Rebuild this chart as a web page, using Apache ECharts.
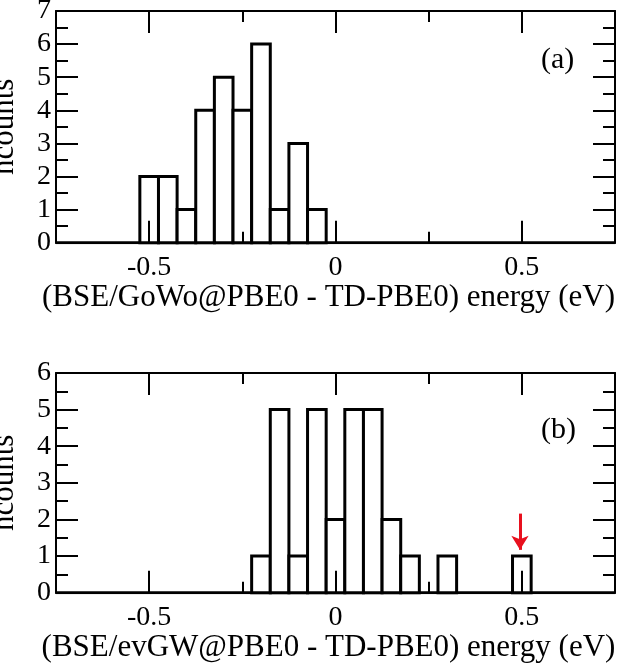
<!DOCTYPE html>
<html>
<head>
<meta charset="utf-8">
<script src="https://cdn.jsdelivr.net/npm/echarts@6/dist/echarts.min.js"></script>
<style>
html,body{margin:0;padding:0;background:#fff;}
#chart{width:625px;height:666px;}
</style>
</head>
<body>
<div id="chart"></div>
<script>
// ---- data ----
const binWidth = 0.05;
const binsA = [-0.50, -0.45, -0.40, -0.35, -0.30, -0.25, -0.20, -0.15, -0.10, -0.05];
const countsA = [2, 2, 1, 4, 5, 4, 6, 1, 3, 1];
const binsB = [-0.20, -0.15, -0.10, -0.05, 0.00, 0.05, 0.10, 0.15, 0.20, 0.25, 0.30, 0.35, 0.40, 0.45, 0.50];
const countsB = [1, 5, 1, 5, 2, 5, 5, 2, 1, 0, 1, 0, 0, 0, 1];
const xMajorTicks = [-0.5, 0, 0.5];
const xMinorTicks = [-0.25, 0.25];
const xRange = [-0.75, 0.75];
const yMaxA = 7, yMaxB = 6;
const arrowB = { x: 0.495, from: 2.16, to: 1.17 };
const xTitleA = '(BSE/GoWo@PBE0 - TD-PBE0) energy (eV)';
const xTitleB = '(BSE/evGW@PBE0 - TD-PBE0) energy (eV)';
const yTitle = 'ncounts';
const panelLabels = ['(a)', '(b)'];

// ---- styling ----
const FONT = '"Liberation Serif", "Times New Roman", serif';
const FS_TICK = 28;
const FS_TITLE = 31;
const GRID_H = [231.7, 219.7];
const MAJOR_LEN = 22, MINOR_LEN = 11;
const chart = echarts.init(document.getElementById('chart'));

function histRender(params, api) {
  const c = api.value(0), n = api.value(1);
  if (!n) return null;
  const p0 = api.coord([c - binWidth / 2, 0]);
  const p1 = api.coord([c + binWidth / 2, n]);
  return {
    type: 'rect',
    shape: { x: p0[0], y: p1[1], width: p1[0] - p0[0], height: p0[1] - p1[1] },
    style: { fill: '#fff', stroke: '#000', lineWidth: 3 }
  };
}

// inward x tick marks on bottom and top edges, as mark lines at the tick values
function xTickMarks(yMax, gridH) {
  const u = px => px * yMax / gridH;
  const out = [];
  const add = (v, len) => {
    out.push([{ coord: [v, 0] }, { coord: [v, u(len)] }]);
    out.push([{ coord: [v, yMax] }, { coord: [v, yMax - u(len)] }]);
  };
  xMajorTicks.forEach(v => add(v, MAJOR_LEN));
  xMinorTicks.forEach(v => add(v, MINOR_LEN));
  return {
    silent: true, animation: false, symbol: ['none', 'none'],
    label: { show: false }, emphasis: { disabled: true },
    lineStyle: { color: '#000', width: 2, type: 'solid' },
    data: out
  };
}

const line = () => ({ color: '#000', width: 2 });

function xAxes(gridIndex, title) {
  const base = () => ({
    gridIndex, type: 'value', min: xRange[0], max: xRange[1], interval: 0.25, z: 10,
    splitLine: { show: false },
    axisTick: { show: false }
  });
  return [
    Object.assign(base(), {
      position: 'bottom',
      axisLine: { show: true, onZero: false, lineStyle: line() },
      axisLabel: {
        show: true, margin: 11, color: '#000', fontFamily: FONT, fontSize: FS_TICK,
        formatter: v => xMajorTicks.some(t => Math.abs(t - v) < 1e-9) ? String(Math.round(v * 100) / 100) : ''
      },
      name: title, nameLocation: 'middle', nameGap: 38,
      nameTextStyle: { color: '#000', fontFamily: FONT, fontSize: FS_TITLE, padding: [0, 14, 0, 0] }
    }),
    Object.assign(base(), {
      position: 'top',
      axisLine: { show: true, onZero: false, lineStyle: line() },
      axisLabel: { show: false }
    })
  ];
}

function yAxes(gridIndex, yMax) {
  const base = () => ({
    gridIndex, type: 'value', min: 0, max: yMax, interval: 1, z: 10,
    splitLine: { show: false },
    axisLine: { show: true, onZero: false, lineStyle: line() },
    axisTick: { show: true, inside: true, length: 22, lineStyle: line() },
    minorTick: { show: true, splitNumber: 2, length: 12, lineStyle: line() }
  });
  return [
    Object.assign(base(), {
      position: 'left',
      axisLabel: { show: true, margin: 5, color: '#000', fontFamily: FONT, fontSize: FS_TICK },
      name: yTitle, nameLocation: 'middle', nameGap: 36, nameMoveOverlap: false,
      nameTextStyle: { color: '#000', fontFamily: FONT, fontSize: FS_TITLE }
    }),
    Object.assign(base(), {
      position: 'right',
      axisLabel: { show: false }
    })
  ];
}

const option = {
  animation: false,
  grid: [
    { left: 56, right: 10, top: 11, height: GRID_H[0], outerBoundsMode: 'none' },
    { left: 56, right: 10, top: 373, height: GRID_H[1], outerBoundsMode: 'none' }
  ],
  xAxis: [].concat(xAxes(0, xTitleA), xAxes(1, xTitleB)),
  yAxis: [].concat(yAxes(0, yMaxA), yAxes(1, yMaxB)),
  graphic: [
    { type: 'text', left: 541, top: 45, style: { text: panelLabels[0], font: `30px ${FONT}`, fill: '#000' } },
    { type: 'text', left: 541, top: 415, style: { text: panelLabels[1], font: `30px ${FONT}`, fill: '#000' } }
  ],
  series: [
    {
      type: 'line', xAxisIndex: 0, yAxisIndex: 0, symbol: 'none', silent: true,
      data: [[xRange[0], 0], [xRange[1], 0]],
      lineStyle: { color: '#000', width: 3 }, z: 1
    },
    {
      type: 'custom', xAxisIndex: 0, yAxisIndex: 0, renderItem: histRender, z: 2,
      data: binsA.map((b, i) => [b, countsA[i]]),
      markLine: xTickMarks(yMaxA, GRID_H[0])
    },
    {
      type: 'line', xAxisIndex: 2, yAxisIndex: 2, symbol: 'none', silent: true,
      data: [[xRange[0], 0], [xRange[1], 0]],
      lineStyle: { color: '#000', width: 3 }, z: 1
    },
    {
      type: 'custom', xAxisIndex: 2, yAxisIndex: 2, renderItem: histRender, z: 2,
      data: binsB.map((b, i) => [b, countsB[i]]),
      markLine: xTickMarks(yMaxB, GRID_H[1])
    },
    {
      type: 'line', xAxisIndex: 2, yAxisIndex: 2, symbol: 'none', silent: true, data: [],
      z: 3,
      markLine: {
        silent: true, animation: false,
        symbol: ['none', 'arrow'], symbolSize: [13, 14],
        label: { show: false }, emphasis: { disabled: true },
        lineStyle: { color: '#e8101e', width: 3, type: 'solid' },
        data: [[{ coord: [arrowB.x, arrowB.from] }, { coord: [arrowB.x, arrowB.to] }]]
      }
    }
  ]
};
chart.setOption(option);
</script>
</body>
</html>
